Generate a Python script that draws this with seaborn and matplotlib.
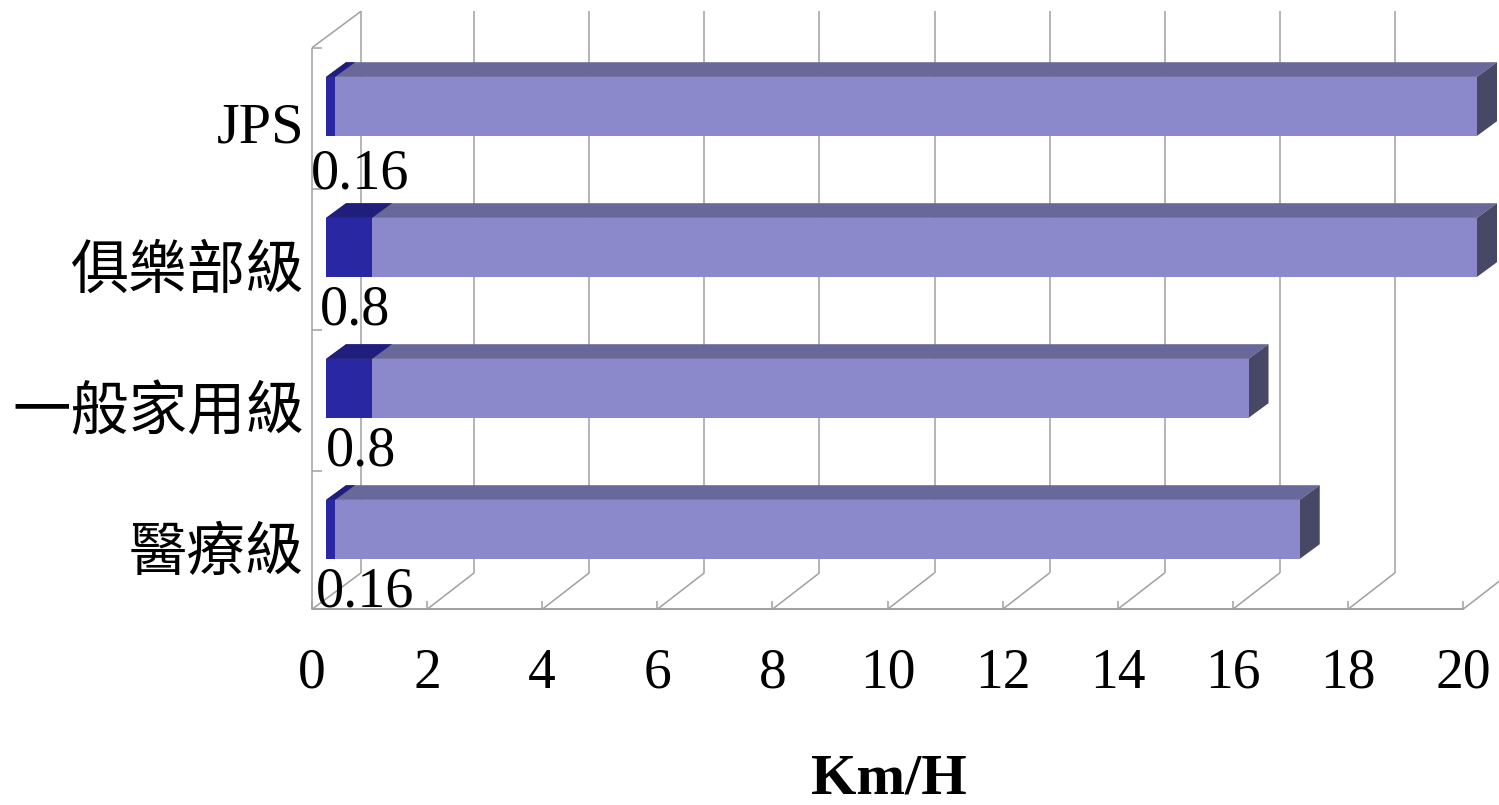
import pandas as pd
import matplotlib.pyplot as plt
import seaborn as sns
from matplotlib.patches import Polygon
from matplotlib.transforms import ScaledTranslation

# Values
categories = ['JPS', '俱樂部級', '一般家用級', '醫療級']
inner_speed = [0.16, 0.8, 0.8, 0.16]
outer_speed = [19.84, 19.2, 15.23, 16.76]
inner_labels = ['0.16', '0.8', '0.8', '0.16']
x_ticks = [0, 2, 4, 6, 8, 10, 12, 14, 16, 18, 20]

W, H = 1499, 805
DPI = 100

# Pixel geometry of the fake 3D box
BAR_LEFT, BAR_RIGHT = 326, 1477
PLANE_TOP, PLANE_BOTTOM = 37.3, 598.9
PX_PER_X = (BAR_RIGHT - BAR_LEFT) / 20
PX_PER_Y = 141
BAR_DX, BAR_DY = 20, 14.7      # depth of a bar
BACK_DX, BACK_DY = 33, 26      # bar plane to back wall
FRONT_DX, FRONT_DY = 14, 10.4  # bar plane to front edge

df = pd.DataFrame({'category': categories, 'inner': inner_speed, 'outer': outer_speed})
df['total'] = df['inner'] + df['outer']

sns.set_theme(style='white')
plt.rcParams['font.family'] = ['Liberation Serif', 'Noto Sans CJK TC']

fig = plt.figure(figsize=(W / DPI, H / DPI), dpi=DPI)
ax = fig.add_axes([BAR_LEFT / W, 1 - PLANE_BOTTOM / H,
                   (BAR_RIGHT - BAR_LEFT) / W, (PLANE_BOTTOM - PLANE_TOP) / H])
ax.set_facecolor('none')

# Stacked bars: the total goes first, the inner part on top of it
sns.barplot(data=df, y='category', x='total', color='#8B89CB', saturation=1,
            width=59 / PX_PER_Y, orient='h', ax=ax, zorder=3, linewidth=0)
n_total = len(ax.patches)
sns.barplot(data=df, y='category', x='inner', color='#2A27A3', saturation=1,
            width=59 / PX_PER_Y, orient='h', ax=ax, zorder=4, linewidth=0)
total_bars = ax.patches[:n_total]
inner_bars = ax.patches[n_total:]

ax.set_xlim(0, 20)
ax.set_ylim((PLANE_BOTTOM - 106.4) / PX_PER_Y, (PLANE_TOP - 106.4) / PX_PER_Y)
sns.despine(ax=ax, left=True, bottom=True)

ddx, ddy = BAR_DX / PX_PER_X, BAR_DY / PX_PER_Y


def top_face(bar, color, z):
    x0, x1 = bar.get_x(), bar.get_x() + bar.get_width()
    y = bar.get_y()
    ax.add_patch(Polygon([(x0, y), (x1, y), (x1 + ddx, y - ddy), (x0 + ddx, y - ddy)],
                         facecolor=color, edgecolor='none', clip_on=False, zorder=z))


def side_face(bar, color, z):
    x1 = bar.get_x() + bar.get_width()
    y0, y1 = bar.get_y(), bar.get_y() + bar.get_height()
    ax.add_patch(Polygon([(x1, y0), (x1 + ddx, y0 - ddy), (x1 + ddx, y1 - ddy), (x1, y1)],
                         facecolor=color, edgecolor='none', clip_on=False, zorder=z))


for bar in total_bars:
    top_face(bar, '#69689A', 2.5)
    side_face(bar, '#474866', 2.5)
for bar in inner_bars:
    top_face(bar, '#201E7C', 2.6)

# Walls and gridlines
grid_col = '#A0A0A0'
back_x, back_y = BACK_DX / PX_PER_X, BACK_DY / PX_PER_Y
front_x, front_y = FRONT_DX / PX_PER_X, FRONT_DY / PX_PER_Y
y_low, y_high = ax.get_ylim()
line_kw = dict(color=grid_col, lw=1.1, clip_on=False, zorder=1, solid_capstyle='butt')

for t in x_ticks:
    # the wall corner sits a little further right than the other lines
    bx = t + back_x + (2 / PX_PER_X if t == 0 else 0)
    # back wall, then floor diagonal, then little tick on the front edge
    ax.plot([bx] * 2, [y_low - back_y, y_high - back_y], **line_kw)
    ax.plot([t - front_x, bx], [y_low + front_y, y_low - back_y], **line_kw)
    ax.plot([t - front_x] * 2, [y_low + front_y, y_low + front_y - 8 / PX_PER_Y], **line_kw)

# left wall
corner_x = back_x + 2 / PX_PER_X
ax.plot([-front_x] * 2, [y_low + front_y, y_high + front_y], **line_kw)
ax.plot([-front_x, corner_x], [y_high + front_y, y_high - back_y], **line_kw)
for i in range(len(categories)):
    yy = y_high + front_y + i
    ax.plot([-front_x, -front_x + 10 / PX_PER_X], [yy, yy], **line_kw)
# front floor edge
ax.plot([-front_x, 20 - front_x], [y_low + front_y] * 2, color=grid_col, lw=1.4,
        clip_on=False, zorder=1)

# Data labels under each bar
label_dx = [34, 29, 35, 39]
label_dy = [68, 63, 63, 63]
for i, bar in enumerate(inner_bars):
    ax.annotate(inner_labels[i], xy=(0, bar.get_y() + bar.get_height() / 2),
                xytext=(label_dx[i], -label_dy[i]), textcoords='offset pixels',
                ha='center', va='center', fontsize=40.5, color='black',
                zorder=6, annotation_clip=False)

# Axis text
ax.set_xticks(x_ticks)
ax.set_xticklabels([str(t) for t in x_ticks], fontsize=40, color='black')
ax.set_yticks(range(len(categories)))
ax.set_yticklabels(categories, fontsize=42, color='black')
ax.set_xlabel('')
ax.set_ylabel('')
ax.tick_params(axis='x', length=0, pad=35)
ax.tick_params(axis='y', length=0, pad=15.8)

x_shift = ScaledTranslation(-FRONT_DX / DPI, 0, fig.dpi_scale_trans)
for lab in ax.get_xticklabels():
    lab.set_transform(lab.get_transform() + x_shift)
label_drop = [16, 19, 19, 19]
for lab, drop in zip(ax.get_yticklabels(), label_drop):
    lab.set_transform(lab.get_transform() + ScaledTranslation(0, -drop / DPI, fig.dpi_scale_trans))

fig.text(889 / W, 1 - 779 / H, 'Km/H', fontsize=42, fontweight='bold', color='black',
         ha='center', va='center')

fig.savefig('out.png', dpi=DPI, facecolor='white')
